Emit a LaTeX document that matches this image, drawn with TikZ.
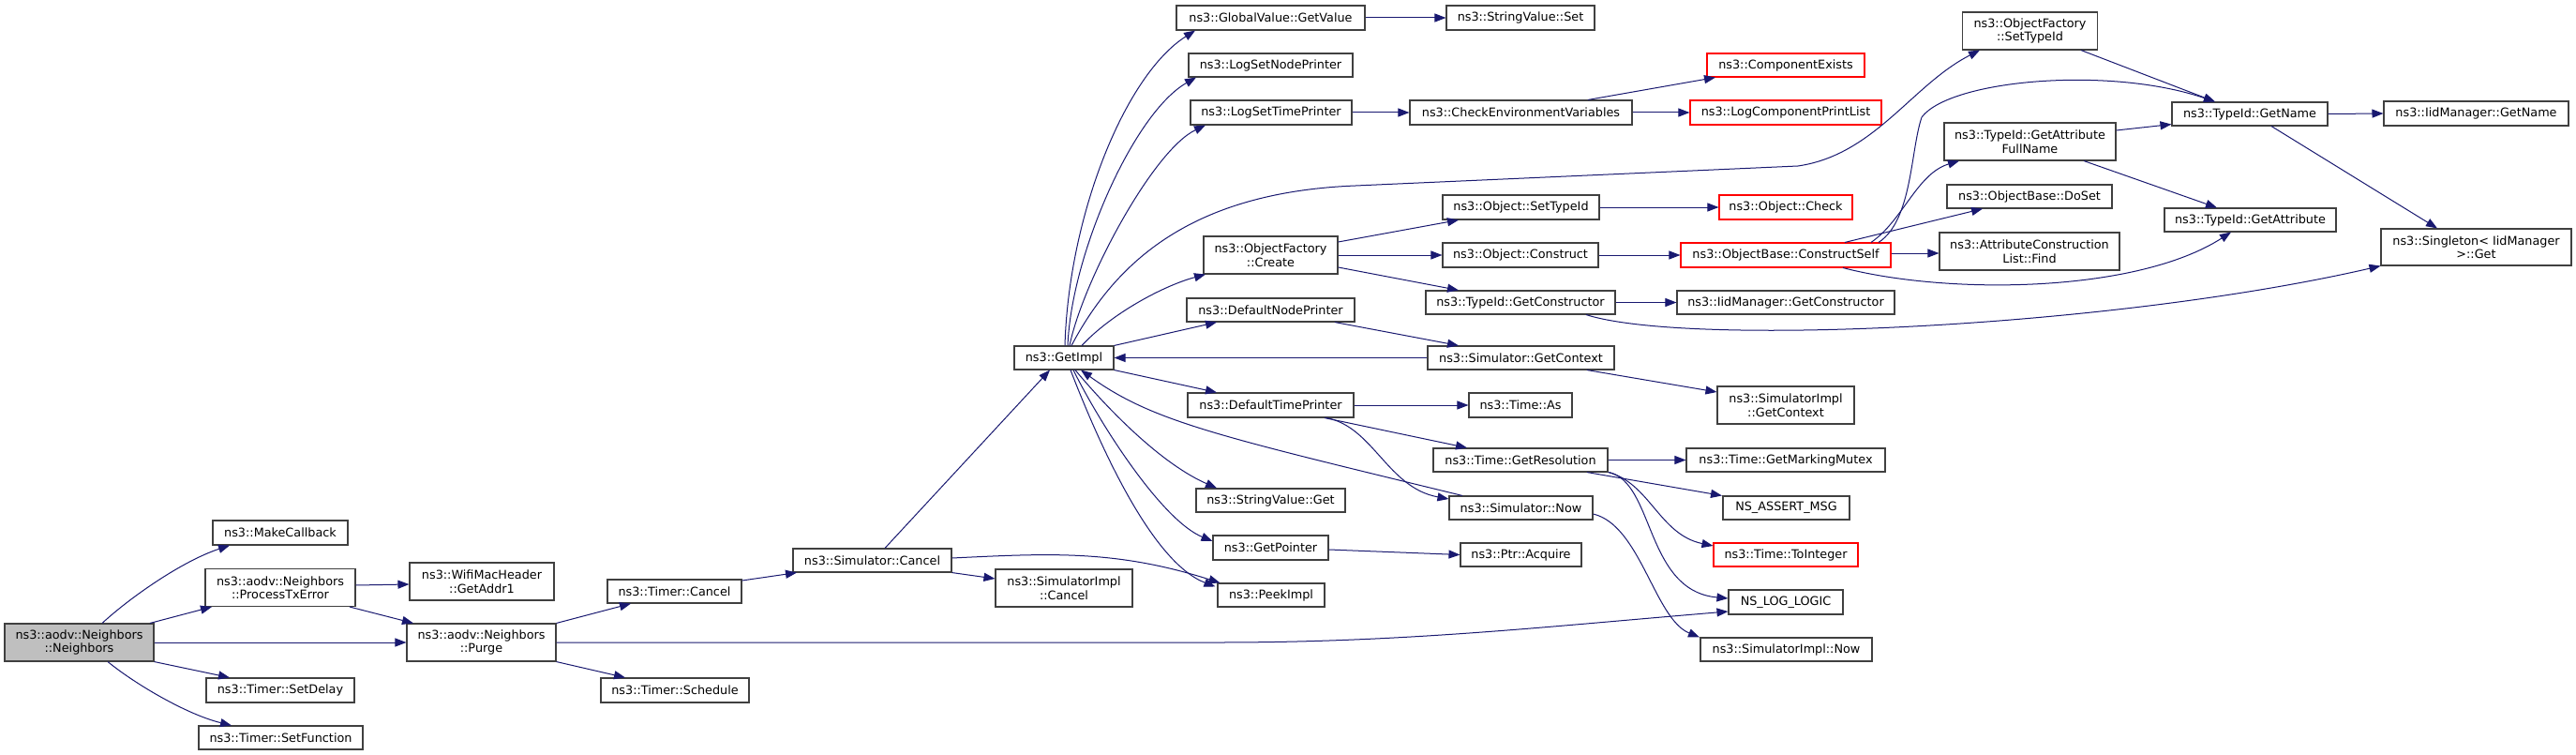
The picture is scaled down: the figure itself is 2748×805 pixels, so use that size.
\documentclass[tikz,border=0pt]{standalone}
\usepackage{fontspec}
\setmainfont{DejaVu Sans}
\usetikzlibrary{arrows.meta,calc}
\definecolor{mblue}{HTML}{191970}
\definecolor{bgray}{HTML}{404040}
\definecolor{rootgray}{HTML}{BFBFBF}
\definecolor{nred}{HTML}{FF0000}
\tikzset{
  box/.style={draw=bgray, fill=white, line width=1.1pt, inner sep=0pt, align=center,
    font=\fontsize{12.8}{14.5}\selectfont, text=black},
  redbox/.style={box, draw=nred},
  rootbox/.style={box, fill=rootgray},
  edge/.style={draw=mblue, line width=1pt, -{Triangle[length=12pt,width=9pt]}},
}
\begin{document}
\begin{tikzpicture}[x=1pt,y=-1pt]
\path[fill=white] (0,0) rectangle (2748,805);
\useasboundingbox (0,0) rectangle (2748,805);
% nodes
\node[rootbox,minimum width=159pt,minimum height=40pt] (root) at (84.5,685) {ns3::aodv::Neighbors\\::Neighbors};
\node[box,minimum width=144pt,minimum height=26pt] (mk) at (299,568) {ns3::MakeCallback};
\node[box,minimum width=160pt,minimum height=40pt] (pte) at (299,626.5) {ns3::aodv::Neighbors\\::ProcessTxError};
\node[box,minimum width=158pt,minimum height=26pt] (sd) at (299,736) {ns3::Timer::SetDelay};
\node[box,minimum width=175pt,minimum height=25pt] (sf) at (299.5,786.5) {ns3::Timer::SetFunction};
\node[box,minimum width=154pt,minimum height=40pt] (ga) at (514,620) {ns3::WifiMacHeader\\::GetAddr1};
\node[box,minimum width=159pt,minimum height=40pt] (pu) at (513.5,685) {ns3::aodv::Neighbors\\::Purge};
\node[box,minimum width=143pt,minimum height=25pt] (tc) at (719.5,630.5) {ns3::Timer::Cancel};
\node[box,minimum width=158pt,minimum height=26pt] (ts) at (720,736) {ns3::Timer::Schedule};
\node[box,minimum width=169pt,minimum height=25pt] (sc) at (930.5,597.5) {ns3::Simulator::Cancel};
\node[box,minimum width=146pt,minimum height=40pt] (sic) at (1135,627) {ns3::SimulatorImpl\\::Cancel};
\node[box,minimum width=106pt,minimum height=25pt] (gi) at (1135,381.5) {ns3::GetImpl};
\node[box,minimum width=201pt,minimum height=26pt] (gv) at (1355.5,19) {ns3::GlobalValue::GetValue};
\node[box,minimum width=175pt,minimum height=25pt] (lsnp) at (1355.5,69.5) {ns3::LogSetNodePrinter};
\node[box,minimum width=172pt,minimum height=26pt] (lstp) at (1356,120) {ns3::LogSetTimePrinter};
\node[box,minimum width=143pt,minimum height=40pt] (ofc) at (1355.5,272) {ns3::ObjectFactory\\::Create};
\node[box,minimum width=179pt,minimum height=25pt] (dnp) at (1355.5,330.5) {ns3::DefaultNodePrinter};
\node[box,minimum width=177pt,minimum height=26pt] (dtp) at (1355.5,432) {ns3::DefaultTimePrinter};
\node[box,minimum width=159pt,minimum height=25pt] (svg) at (1355.5,533.5) {ns3::StringValue::Get};
\node[box,minimum width=123pt,minimum height=26pt] (gp) at (1355.5,584) {ns3::GetPointer};
\node[box,minimum width=114pt,minimum height=25pt] (pi) at (1356,634.5) {ns3::PeekImpl};
\node[box,minimum width=158pt,minimum height=26pt] (svs) at (1622,19) {ns3::StringValue::Set};
\node[box,minimum width=237pt,minimum height=26pt] (cev) at (1622.5,120) {ns3::CheckEnvironmentVariables};
\node[box,minimum width=167pt,minimum height=26pt] (ost) at (1622.5,221) {ns3::Object::SetTypeId};
\node[box,minimum width=166pt,minimum height=26pt] (oc) at (1622,272) {ns3::Object::Construct};
\node[box,minimum width=202pt,minimum height=25pt] (tgc) at (1622,322.5) {ns3::TypeId::GetConstructor};
\node[box,minimum width=199pt,minimum height=25pt] (sgc) at (1622.5,381.5) {ns3::Simulator::GetContext};
\node[box,minimum width=110pt,minimum height=26pt] (ta) at (1622,432) {ns3::Time::As};
\node[box,minimum width=186pt,minimum height=25pt] (tgr) at (1622,490.5) {ns3::Time::GetResolution};
\node[box,minimum width=153pt,minimum height=25pt] (sn) at (1622.5,541.5) {ns3::Simulator::Now};
\node[box,minimum width=129pt,minimum height=25pt] (pa) at (1622.5,591.5) {ns3::Ptr::Acquire};
\node[redbox,minimum width=168pt,minimum height=25pt] (ce) at (1905,69.5) {ns3::ComponentExists};
\node[redbox,minimum width=204pt,minimum height=26pt] (lcpl) at (1905,120) {ns3::LogComponentPrintList};
\node[redbox,minimum width=142pt,minimum height=26pt] (ock) at (1905,221) {ns3::Object::Check};
\node[redbox,minimum width=224pt,minimum height=26pt] (cs) at (1905,272) {ns3::ObjectBase::ConstructSelf};
\node[box,minimum width=232pt,minimum height=25pt] (igc) at (1905,322.5) {ns3::IidManager::GetConstructor};
\node[box,minimum width=146pt,minimum height=40pt] (sigc) at (1905,432) {ns3::SimulatorImpl\\::GetContext};
\node[box,minimum width=212pt,minimum height=25pt] (tgmm) at (1905,490.5) {ns3::Time::GetMarkingMutex};
\node[box,minimum width=135pt,minimum height=25pt] (nam) at (1905.5,541.5) {NS\_ASSERT\_MSG};
\node[redbox,minimum width=154pt,minimum height=25pt] (tti) at (1905,591.5) {ns3::Time::ToInteger};
\node[box,minimum width=122pt,minimum height=26pt] (nll) at (1905,642) {NS\_LOG\_LOGIC};
\node[box,minimum width=183pt,minimum height=25pt] (sin) at (1905.5,692.5) {ns3::SimulatorImpl::Now};
\node[box,minimum width=144pt,minimum height=40pt] (ofst) at (2165.5,33) {ns3::ObjectFactory\\::SetTypeId};
\node[box,minimum width=183pt,minimum height=40pt] (tgafn) at (2165.5,151) {ns3::TypeId::GetAttribute\\FullName};
\node[box,minimum width=176pt,minimum height=25pt] (obds) at (2165,209.5) {ns3::ObjectBase::DoSet};
\node[box,minimum width=192pt,minimum height=40pt] (acl) at (2165,268) {ns3::AttributeConstruction\\List::Find};
\node[box,minimum width=166pt,minimum height=25pt] (tgn) at (2400,121.5) {ns3::TypeId::GetName};
\node[box,minimum width=183pt,minimum height=25pt] (tga) at (2400.5,234.5) {ns3::TypeId::GetAttribute};
\node[box,minimum width=197pt,minimum height=26pt] (ign) at (2641.5,121) {ns3::IidManager::GetName};
\node[box,minimum width=203pt,minimum height=39pt] (sg) at (2641.5,263.5) {ns3::Singleton< IidManager\\>::Get};
% edges from root
\draw[edge] ($(root.north)+(24.5,0)$) .. controls (140,636) and (195,598) .. ($(mk.south)+(-54,0)$);
\draw[edge] ($(root.north)+(75.5,0)$) -- ($(pte.south)+(-73,0)$);
\draw[edge] (root.east) -- (pu.west);
\draw[edge] (root.south east) -- ($(sd.north)+(-54,0)$);
\draw[edge] ($(root.south)+(30.5,0)$) .. controls (145,730) and (200,762) .. ($(sf.north)+(-52.5,0)$);
\draw[edge] ($(pte.east)+(0,-2.5)$) -- ($(ga.west)+(0,3)$);
\draw[edge] ($(pte.south)+(74,0)$) -- ($(pu.north)+(-72.5,0)$);
% Purge
\draw[edge] (pu.north east) -- ($(tc.south)+(-46.5,0)$);
\draw[edge] (pu.south east) -- ($(ts.north)+(-53,0)$);
\draw[edge] (pu.east) -- (1300,685) .. controls (1500,685) and (1650,668) .. ($(nll.west)+(0,10)$);
% Timer::Cancel, Simulator::Cancel
\draw[edge] ($(tc.east)+(0,-11.5)$) -- ($(sc.south)+(-80.5,0)$);
\draw[edge] ($(sc.north)+(13.5,0)$) -- ($(gi.south)+(-15,0)$);
\draw[edge] (sc.south east) -- ($(sic.west)+(0,-10)$);
\draw[edge] ($(sc.east)+(0,-2.5)$) .. controls (1120,590) and (1190,586) .. ($(pi.north west)+(3,0)$);
% GetImpl
\draw[edge] ($(gi.north)+(1,0)$) .. controls (1140,230) and (1200,80) .. ($(gv.south)+(-80.5,0)$);
\draw[edge] ($(gi.north)+(4,0)$) .. controls (1143,270) and (1210,120) .. ($(lsnp.south)+(-79.5,0)$);
\draw[edge] ($(gi.north)+(6,0)$) .. controls (1155,300) and (1230,160) .. ($(lstp.south)+(-70,0)$);
\draw[edge] ($(gi.north)+(8,0)$) .. controls (1190,280) and (1270,205) .. (1446,198) -- (1918,177) .. controls (2000,165) and (2040,90) .. ($(ofst.south)+(-53.5,0)$);
\draw[edge] ($(gi.north)+(19,0)$) .. controls (1185,335) and (1240,305) .. ($(ofc.south)+(-69.5,0)$);
\draw[edge] (gi.north east) -- ($(dnp.south)+(-57.5,0)$);
\draw[edge] (gi.south east) -- ($(dtp.north)+(-57.5,0)$);
\draw[edge] ($(gi.south)+(12,0)$) .. controls (1185,440) and (1240,495) .. ($(svg.north)+(-57.5,0)$);
\draw[edge] ($(gi.south)+(10,0)$) .. controls (1175,455) and (1240,555) .. ($(gp.west)+(0,-7)$);
\draw[edge] ($(gi.south)+(7,0)$) .. controls (1175,480) and (1230,600) .. ($(pi.west)+(-2,-9)$);
\draw[edge] (sgc.west) -- (gi.east);
\draw[edge] ($(sn.north)+(-62.5,0)$) .. controls (1300,465) and (1230,450) .. ($(gi.south)+(18,0)$);
% second column
\draw[edge] ($(ofc.east)+(0,-14)$) -- ($(ost.south)+(-66.5,0)$);
\draw[edge] (ofc.east) -- (oc.west);
\draw[edge] ($(ofc.east)+(0,13)$) -- ($(tgc.north)+(-66,0)$);
\draw[edge] ($(dnp.south)+(68.5,0)$) -- ($(sgc.north)+(-66.5,0)$);
\draw[edge] (dtp.east) -- (ta.west);
\draw[edge] ($(dtp.south)+(57.5,0)$) -- ($(tgr.north)+(-57,0)$);
\draw[edge] ($(dtp.south)+(59.5,0)$) .. controls (1465,455) and (1480,520) .. ($(sn.west)+(0,-9.5)$);
\draw[edge] ($(gp.east)+(0,2)$) -- (pa.west);
\draw[edge] (lstp.east) -- (cev.west);
\draw[edge] (gv.east) -- (svs.west);
% third column
\draw[edge] ($(sgc.south)+(70.5,0)$) -- ($(sigc.west)+(0,-14)$);
\draw[edge] (tgr.east) -- (tgmm.west);
\draw[edge] ($(tgr.south)+(71,0)$) -- ($(nam.north)+(-68.5,0)$);
\draw[edge] (tgr.south east) .. controls (1760,515) and (1770,570) .. ($(tti.west)+(0,-9.5)$);
\draw[edge] ($(tgr.south east)+(1,0)$) .. controls (1765,515) and (1755,630) .. ($(nll.west)+(0,-4)$);
\draw[edge] ($(sn.east)+(0,6.5)$) .. controls (1750,560) and (1765,660) .. ($(sin.north)+(-92.5,0)$);
\draw[edge] ($(cev.north)+(71.5,0)$) -- ($(ce.south)+(-75,0)$);
\draw[edge] (cev.east) -- (lcpl.west);
\draw[edge] (ost.east) -- (ock.west);
\draw[edge] (oc.east) -- (cs.west);
\draw[edge] (tgc.east) -- (igc.west);
\draw[edge] ($(tgc.south)+(70,0)$) .. controls (1800,370) and (2250,350) .. (sg.south west);
% ConstructSelf
\draw[edge] ($(cs.north)+(63,0)$) -- ($(obds.south)+(-50,0)$);
\draw[edge] ($(cs.north)+(91,0)$) .. controls (2030,235) and (2045,185) .. ($(tgafn.south)+(-75.5,0)$);
\draw[edge] ($(cs.north)+(99,0)$) .. controls (2040,235) and (2038,160) .. (2050,125) .. controls (2080,85) and (2250,70) .. ($(tgn.north)+(-37,0)$);
\draw[edge] ($(cs.east)+(0,-2)$) -- ($(acl.west)+(0,2)$);
\draw[edge] ($(cs.south)+(61,0)$) .. controls (2080,315) and (2280,312) .. ($(tga.south)+(-20.5,0)$);
% right columns
\draw[edge] ($(ofst.south)+(54.5,0)$) -- ($(tgn.north)+(-37,0)$);
\draw[edge] ($(tgafn.east)+(0,-12)$) -- ($(tgn.south west)+(0,-2)$);
\draw[edge] ($(tgafn.south)+(57.5,0)$) -- ($(tga.north)+(-35.5,0)$);
\draw[edge] (tgn.east) -- (ign.west);
\draw[edge] ($(tgn.south)+(23,0)$) -- ($(sg.north)+(-41.5,0)$);
\end{tikzpicture}
\end{document}
